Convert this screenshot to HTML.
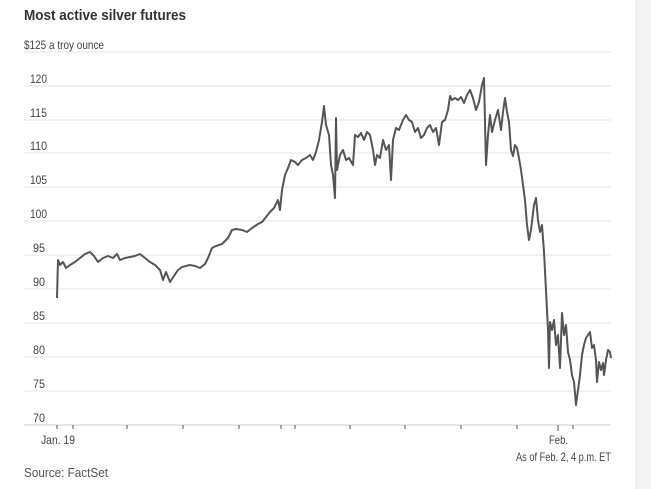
<!DOCTYPE html>
<html><head><meta charset="utf-8"><style>
body{margin:0;background:#fff;}
svg{display:block;font-family:"Liberation Sans",sans-serif;}
</style></head><body>
<svg width="651" height="489" viewBox="0 0 651 489">
<rect x="0" y="0" width="651" height="489" fill="#fff"/>
<rect x="636" y="0" width="15" height="489" fill="#f4f4f4"/>
<line x1="636" y1="0" x2="636" y2="489" stroke="#e6e6e6"/>
<text x="24" y="20" font-size="15" font-weight="bold" fill="#333" textLength="162" lengthAdjust="spacingAndGlyphs">Most active silver futures</text>
<text x="24" y="49" font-size="12" fill="#444" textLength="80" lengthAdjust="spacingAndGlyphs">$125 a troy ounce</text>
<g stroke="#e3e3e3" stroke-width="1">
<line x1="24" y1="52" x2="611" y2="52"/>
<line x1="24" y1="86" x2="611" y2="86"/>
<line x1="24" y1="120" x2="611" y2="120"/>
<line x1="24" y1="153" x2="611" y2="153"/>
<line x1="24" y1="187" x2="611" y2="187"/>
<line x1="24" y1="221" x2="611" y2="221"/>
<line x1="24" y1="255" x2="611" y2="255"/>
<line x1="24" y1="289" x2="611" y2="289"/>
<line x1="24" y1="323" x2="611" y2="323"/>
<line x1="24" y1="357" x2="611" y2="357"/>
<line x1="24" y1="391" x2="611" y2="391"/>
</g>
<line x1="24" y1="425" x2="611" y2="425" stroke="#ccc"/>
<g font-size="12" fill="#444" lengthAdjust="spacingAndGlyphs">
<text x="30" y="83" textLength="17" lengthAdjust="spacingAndGlyphs">120</text><text x="30" y="117" textLength="17" lengthAdjust="spacingAndGlyphs">115</text><text x="30" y="150" textLength="17" lengthAdjust="spacingAndGlyphs">110</text>
<text x="30" y="184" textLength="17" lengthAdjust="spacingAndGlyphs">105</text><text x="30" y="218" textLength="17" lengthAdjust="spacingAndGlyphs">100</text><text x="33" y="252" textLength="12" lengthAdjust="spacingAndGlyphs">95</text>
<text x="33" y="286" textLength="12" lengthAdjust="spacingAndGlyphs">90</text><text x="33" y="320" textLength="12" lengthAdjust="spacingAndGlyphs">85</text><text x="33" y="354" textLength="12" lengthAdjust="spacingAndGlyphs">80</text>
<text x="33" y="388" textLength="12" lengthAdjust="spacingAndGlyphs">75</text><text x="33" y="422" textLength="12" lengthAdjust="spacingAndGlyphs">70</text>
</g>
<g stroke="#555" stroke-width="1">
<line x1="57" y1="425" x2="57" y2="429"/><line x1="73" y1="425" x2="73" y2="429"/>
<line x1="127" y1="425" x2="127" y2="429"/><line x1="183" y1="425" x2="183" y2="429"/>
<line x1="239" y1="425" x2="239" y2="429"/><line x1="281" y1="425" x2="281" y2="429"/>
<line x1="295" y1="425" x2="295" y2="429"/><line x1="350" y1="425" x2="350" y2="429"/>
<line x1="405" y1="425" x2="405" y2="429"/><line x1="461" y1="425" x2="461" y2="429"/>
<line x1="517" y1="425" x2="517" y2="429"/><line x1="558" y1="425" x2="558" y2="431"/>
<line x1="573" y1="425" x2="573" y2="429"/>
</g>
<text x="41" y="444" font-size="12" fill="#444" textLength="34" lengthAdjust="spacingAndGlyphs">Jan. 19</text>
<text x="549" y="444" font-size="12" fill="#444" textLength="19" lengthAdjust="spacingAndGlyphs">Feb.</text>
<text x="516" y="461" font-size="12" fill="#444" textLength="95" lengthAdjust="spacingAndGlyphs">As of Feb. 2, 4 p.m. ET</text>
<text x="24" y="477" font-size="13" fill="#555" textLength="84" lengthAdjust="spacingAndGlyphs">Source: FactSet</text>
<polyline fill="none" stroke="#555" stroke-width="2" stroke-linejoin="round" points="57,298 58,260 60,265 63,262 66,268 70,265 75,262 80,258 85,254 90,252 94,256 98,262 103,258 108,256 113,258 117,254 120,260 125,258 130,257 135,256 140,254 145,258 150,262 155,265 160,270 163,280 166,272 170,282 174,276 178,270 182,267 186,266 190,265 195,266 200,268 205,264 208,258 212,248 216,246 222,244 228,238 232,230 236,229 242,230 247,232 252,228 258,224 262,222 266,217 270,212 274,208 278,200 280,210 282,190 285,175 288,168 291,160 295,162 298,165 302,160 306,158 310,155 313,160 316,152 319,140 322,122 324,106 326,125 329,135 331,165 333,175 335,198 336,118 337,170 340,155 343,150 346,160 349,158 353,165 355,135 358,137 361,133 364,140 367,132 370,135 373,150 375,165 377,155 380,158 383,140 386,150 389,145 391,180 393,140 396,128 399,130 403,120 406,115 409,120 412,122 415,132 418,128 421,138 424,135 427,128 430,125 433,132 436,128 439,145 442,122 445,120 448,110 450,96 452,100 455,98 458,100 461,97 464,103 467,95 470,90 473,98 476,110 479,102 482,85 484,78 486,165 488,135 490,115 492,132 495,120 498,110 501,130 503,112 505,98 507,112 509,122 511,150 513,156 515,145 517,148 519,158 521,170 523,185 525,200 527,225 529,240 531,230 534,205 536,198 538,220 540,232 542,225 544,252 546,290 548,330 549,368 550,322 552,330 554,320 556,345 558,335 560,368 562,313 564,335 566,325 568,352 570,360 572,375 574,382 576,405 578,390 580,375 582,355 584,345 586,338 588,335 590,332 592,348 594,345 596,360 597,382 599,362 601,370 603,363 604,375 606,360 608,350 610,352 611,358"/>
</svg>
</body></html>
